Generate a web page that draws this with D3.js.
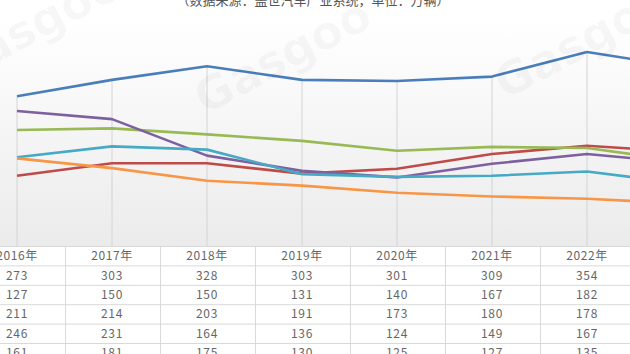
<!DOCTYPE html>
<html>
<head>
<meta charset="utf-8">
<script src="https://cdn.jsdelivr.net/npm/d3@7"></script>
<style>
  body { margin: 0; background: #fff; }
  svg { display: block; }
</style>
</head>
<body>
<script>
// data (万辆); 2023 values only partly visible, estimated from the line ends
let years = ["2016年", "2017年", "2018年", "2019年", "2020年", "2021年", "2022年", "2023年"]
let blue = [273, 303, 328, 303, 301, 309, 354, 327]
let red = [127, 150, 150, 131, 140, 167, 182, 171]
let green = [211, 214, 203, 191, 173, 180, 178, 154]
let purple = [246, 231, 164, 136, 124, 149, 167, 151]
let cyan = [161, 181, 175, 130, 125, 127, 135, 113]
let orange = [159, 141, 118, 109, 96, 89, 85, 76]
let title = "（数据来源：盖世汽车产业系统，单位：万辆）"

let series = [
    { values: blue, color: "#4a7ebb" },
    { values: red, color: "#be4b48" },
    { values: green, color: "#98b954" },
    { values: purple, color: "#7d60a0" },
    { values: cyan, color: "#46aac5" },
    { values: orange, color: "#f79646" }
]

let width = 630, height = 354
let svg = d3.select("body").append("svg").attr("width", width).attr("height", height)

let step = 95
let xScale = d3.scalePoint().domain(years).range([17, 17 + step * (years.length - 1)])
let axisY = 246
let yScale = d3.scaleLinear().domain([0, 400]).range([245, 27])

// plot background gradient
let grad = svg.append("defs").append("linearGradient").attr("id", "bg")
    .attr("x1", 0).attr("y1", 0).attr("x2", 0).attr("y2", 1)
grad.append("stop").attr("offset", "0%").attr("stop-color", "#ffffff")
grad.append("stop").attr("offset", "100%").attr("stop-color", "#ebebeb")
svg.append("rect").attr("x", 0).attr("y", 20).attr("width", width).attr("height", axisY - 20)
    .attr("fill", "url(#bg)")

// title (cut at the top)
svg.append("text").attr("x", 313).attr("y", 5).attr("text-anchor", "middle")
    .style("font-family", "Noto Sans CJK SC").style("font-size", "13px").attr("fill", "#555")
    .text(title)

// drop lines from the highest point of each year
let g = svg.append("g")
g.selectAll("line.drop").data(years).enter().append("line")
    .attr("class", "drop")
    .attr("x1", d => xScale(d)).attr("x2", d => xScale(d))
    .attr("y1", (d, i) => yScale(d3.max(series, s => s.values[i])))
    .attr("y2", axisY)
    .attr("stroke", "#d4d4d4").attr("stroke-width", 1)

// watermarks
let marks = [[40, 40], [290, 70], [590, 55], [170, 320], [590, 320]]
svg.append("g").selectAll("text").data(marks).enter().append("text")
    .attr("transform", d => "translate(" + d[0] + "," + d[1] + ") rotate(-28)")
    .attr("text-anchor", "middle")
    .style("font-family", "DejaVu Sans").style("font-size", "46px").style("font-weight", "bold")
    .attr("fill", "#000").attr("fill-opacity", 0.03)
    .text("Gasgoo")

// lines
let line = d3.line().x((d, i) => xScale(years[i])).y(d => yScale(d))
g.selectAll("path.series").data(series).enter().append("path")
    .attr("class", "series")
    .attr("d", d => line(d.values))
    .attr("fill", "none")
    .attr("stroke", d => d.color)
    .attr("stroke-width", 2.6)
    .attr("stroke-linejoin", "round")

// data table
let rowH = 19.4
let rows = [years].concat(series.map(s => s.values))
let table = svg.append("g")
table.append("rect").attr("x", 0).attr("y", axisY).attr("width", width).attr("height", height - axisY)
    .attr("fill", "#fff").attr("fill-opacity", 0.9)
rows.forEach(function (row, r) {
    table.append("line").attr("x1", 0).attr("x2", width)
        .attr("y1", axisY + r * rowH + 0.5).attr("y2", axisY + r * rowH + 0.5)
        .attr("stroke", "#d9d9d9")
    table.selectAll("text.r" + r).data(row).enter().append("text")
        .attr("x", (d, i) => xScale(years[i]))
        .attr("y", axisY + r * rowH + rowH / 2 + 4.5)
        .attr("text-anchor", "middle")
        .style("font-family", "Noto Sans CJK SC").style("font-size", "12px")
        .style("letter-spacing", "0.6px")
        .attr("fill", "#666")
        .text(d => d)
})
table.selectAll("line.col").data(years).enter().append("line")
    .attr("class", "col")
    .attr("x1", d => Math.round(xScale(d) + step / 2) + 0.5)
    .attr("x2", d => Math.round(xScale(d) + step / 2) + 0.5)
    .attr("y1", axisY).attr("y2", height)
    .attr("stroke", "#d9d9d9")
</script>
</body>
</html>
